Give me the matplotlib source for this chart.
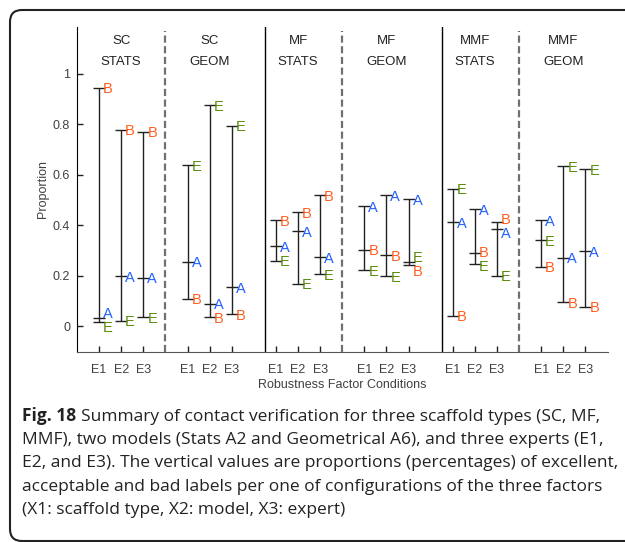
import numpy as np
import matplotlib
matplotlib.use("Agg")
from matplotlib import pyplot as plt
from matplotlib.patches import FancyBboxPatch

# ---- data ----
scaffolds = ['SC', 'SC', 'MF', 'MF', 'MMF', 'MMF']
models = ['STATS', 'GEOM', 'STATS', 'GEOM', 'STATS', 'GEOM']
experts = ['E1', 'E2', 'E3']

# proportions of Excellent / Acceptable / Bad labels, 6 groups x 3 experts
excellent = [0.019, 0.022, 0.036,  0.638, 0.875, 0.795,
             0.260, 0.169, 0.206,  0.222, 0.199, 0.255,
             0.544, 0.246, 0.201,  0.342, 0.634, 0.622]
acceptable = [0.035, 0.199, 0.193,  0.255, 0.088, 0.156,
              0.318, 0.377, 0.273,  0.475, 0.519, 0.503,
              0.412, 0.463, 0.385,  0.421, 0.272, 0.298]
bad = [0.945, 0.779, 0.771,  0.110, 0.036, 0.048,
       0.421, 0.451, 0.519,  0.304, 0.281, 0.244,
       0.042, 0.290, 0.412,  0.236, 0.095, 0.078]

caption_lines = [
    "Summary of contact verification for three scaffold types (SC, MF,",
    "MMF), two models (Stats A2 and Geometrical A6), and three experts (E1,",
    "E2, and E3). The vertical values are proportions (percentages) of excellent,",
    "acceptable and bad labels per one of configurations of the three factors",
    "(X1: scaffold type, X2: model, X3: expert)",
]

colors = {'E': '#5a8c0a', 'A': '#2160ff', 'B': '#ff5f1f'}
font = 'Liberation Sans'
grey = '#404040'

fig = plt.figure(figsize=(6.25, 5.42), dpi=100)
ax = fig.add_axes([0.1232, 0.3511, 0.8488, 0.5991])

# x positions: 3 experts per group, gap of one unit between the two models
xpos = []
for g in range(6):
    for j in range(3):
        xpos.append(8 * (g // 2) + 4 * (g % 2) + 1 + j)
xpos = np.array(xpos)

series = {'E': np.array(excellent), 'A': np.array(acceptable), 'B': np.array(bad)}
allv = np.vstack([series['E'], series['A'], series['B']])

ax.vlines(xpos, allv.min(axis=0), allv.max(axis=0), color='#222222', lw=1.0, zorder=3)
for k in series:
    ax.plot(xpos, series[k], ls='none', marker='_', ms=8, mew=1.0, color='#222222', zorder=3)

# letter labels, pushed apart when too close
mingap = 0.054
for i, x in enumerate(xpos):
    items = sorted([(series[k][i], k) for k in series])
    ys = [v for v, _ in items]
    for _ in range(30):
        for a in range(len(ys) - 1):
            d = ys[a + 1] - ys[a]
            if d < mingap:
                s = (mingap - d) / 2
                ys[a] -= s
                ys[a + 1] += s
    for (v, k), yl in zip(items, ys):
        ax.text(x + 0.18, yl, k, color=colors[k], fontsize=10.5, family=font,
                ha='left', va='center_baseline', zorder=4)

# separators
for xs in [4, 12, 20]:
    ax.plot([xs, xs], [-0.1, 1.17], color='#707070', lw=1.6, ls=(0, (3.2, 1.6)), zorder=1)
for xs in [8.5, 16.5]:
    ax.axvline(xs, color='black', lw=1.0, zorder=1)

# group titles
for g in range(6):
    xc = 8 * (g // 2) + 4 * (g % 2) + 2
    ax.text(xc, 1.131, scaffolds[g], ha='center', va='center', fontsize=9.5, family=font, color='#222222')
    ax.text(xc, 1.047, models[g], ha='center', va='center', fontsize=9.5, family=font, color='#222222')

ax.set_xlim(0, 24)
ax.set_ylim(-0.1, 1.185)
ax.set_xticks(xpos)
ax.set_xticklabels(experts * 6, family=font, fontsize=9, color=grey)
ax.set_yticks([0, 0.2, 0.4, 0.6, 0.8, 1])
ax.set_yticklabels(['0', '0.2', '0.4', '0.6', '0.8', '1'], family=font, fontsize=9, color=grey)
ax.tick_params(direction='in', length=4, width=1.0, colors='#222222', labelcolor=grey)
ax.tick_params(axis='x', pad=9)
ax.tick_params(axis='y', pad=5)
for s in ['top', 'right']:
    ax.spines[s].set_visible(False)
ax.spines['left'].set_color('black')
ax.spines['bottom'].set_color('#555555')
ax.set_ylabel('Proportion', family=font, fontsize=9, color=grey, labelpad=2.5)
ax.set_xlabel('Robustness Factor Conditions', family=font, fontsize=9, color=grey, labelpad=2)
ax.patch.set_alpha(0)

# outer rounded box (display pixels, origin bottom-left), right side runs off the page
box = FancyBboxPatch((10, 1), 900, 531, boxstyle='round,pad=0,rounding_size=12',
                     transform=None, fill=False, ec='#222222', lw=1.5)
fig.patches.append(box)

# caption
cfont = 'Open Sans'
csize = 12.5
renderer = fig.canvas.get_renderer()
lead = fig.text(22 / 625, 1 - 421 / 542, 'Fig. 18', fontsize=csize, family=cfont,
                weight='bold', color='#222222', va='baseline')
bb = lead.get_window_extent(renderer)
for n, line in enumerate(caption_lines):
    yb = 1 - (421 + n * 23.2) / 542
    x0 = (bb.x1 + 5) / 625 if n == 0 else 22 / 625
    fig.text(x0, yb, line, fontsize=csize, family=cfont, color='#222222', va='baseline')

fig.savefig('out.png', dpi=100)
